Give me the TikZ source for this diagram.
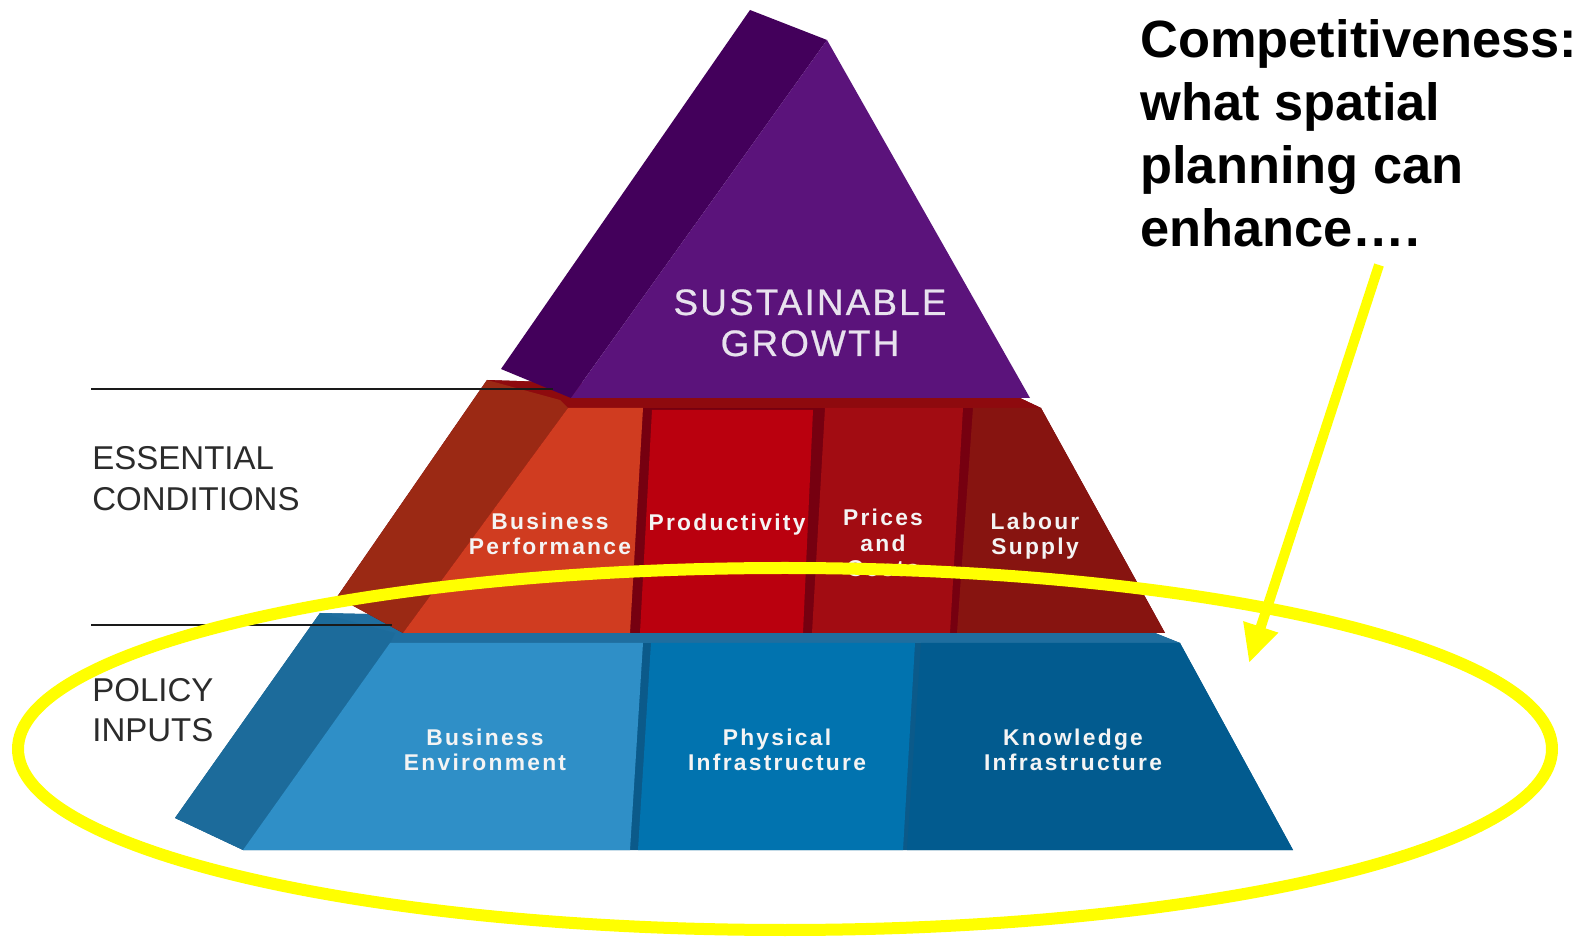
\documentclass[tikz,border=0pt]{standalone}
\usepackage{fontspec}
\setmainfont{Liberation Sans}
\newfontfamily\lblfont[LetterSpace=10]{Liberation Sans}
\newfontfamily\sgfont[LetterSpace=6,FakeBold=0.6]{Liberation Sans}
\usetikzlibrary{arrows.meta}
\definecolor{purpleDark}{HTML}{43005B}
\definecolor{purpleLight}{HTML}{5B137B}
\definecolor{redSep}{HTML}{760010}
\definecolor{redBand}{HTML}{8E0A0E}
\definecolor{redSide}{HTML}{9B2914}
\definecolor{redOrange}{HTML}{D03C20}
\definecolor{redProd}{HTML}{BA000E}
\definecolor{redPrice}{HTML}{A20C12}
\definecolor{redLab}{HTML}{871410}
\definecolor{blueSep}{HTML}{0B5A8A}
\definecolor{blueBand}{HTML}{1F6E9F}
\definecolor{blueSide}{HTML}{1C6B9B}
\definecolor{blueLight}{HTML}{2F8FC7}
\definecolor{bluePhys}{HTML}{0173AF}
\definecolor{blueKnow}{HTML}{025B8F}
\definecolor{labelwhite}{HTML}{F4F4F4}
\definecolor{sgwhite}{HTML}{E8E2EE}
\definecolor{sidegrey}{HTML}{2B2B2B}
\definecolor{ruleblack}{HTML}{1A1A1A}
\definecolor{hlyellow}{HTML}{FFFF00}
\begin{document}
\begin{tikzpicture}[x=0.5pt,y=-0.5pt,
  lbl/.style={text=labelwhite, font=\lblfont\bfseries\fontsize{11.4}{12.75}\selectfont, align=center, anchor=base, inner sep=0pt},
  side/.style={text=sidegrey, font=\fontsize{16.5}{20.5}\selectfont, align=left, anchor=base west, inner sep=0pt},
  rule/.style={draw=ruleblack, line width=1pt},
  hl/.style={draw=hlyellow, line width=6pt}]
\useasboundingbox (0,0) rectangle (1586,940);
\fill[white] (0,0) rectangle (1586,940);

% ---------- blue tier (policy inputs)
\fill[blueSep] (320,613) -- (1150,631) -- (1180,643) -- (1293,850) -- (243,850) -- (175,818) -- cycle;
\fill[blueBand] (320,613) -- (1150,631) -- (1180,643) -- (390,643) -- cycle;
\fill[blueSide] (320,613) -- (395,633) -- (390,643) -- (243,850) -- (175,818) -- cycle;
\fill[blueLight] (390,643) -- (643,643) -- (630,850) -- (243,850) -- cycle;
\fill[bluePhys] (651,643) -- (915,643) -- (903,850) -- (638,850) -- cycle;
\fill[blueKnow] (921,643) -- (1180,643) -- (1293,850) -- (907,850) -- cycle;

% ---------- red tier (essential conditions)
\fill[redSep] (487,380) -- (1020,398) -- (1041,408) -- (1165,633) -- (403,633) -- (337,597) -- cycle;
\fill[redBand] (487,380) -- (1020,398) -- (1041,408) -- (568,408) -- cycle;
\fill[redSide] (487,380) -- (560,400) -- (568,408) -- (403,633) -- (337,597) -- cycle;
\fill[redOrange] (568,408) -- (643,408) -- (630,633) -- (403,633) -- cycle;
\fill[redProd] (652,410) -- (813,410) -- (803,633) -- (640,633) -- cycle;
\fill[redPrice] (825,408) -- (963,408) -- (950,633) -- (812,633) -- cycle;
\fill[redLab] (973,408) -- (1041,408) -- (1165,633) -- (957,633) -- cycle;

% ---------- purple apex (sustainable growth)
\fill[purpleDark] (750,10) -- (827,40) -- (571,398) -- (501,369) -- cycle;
\fill[purpleLight] (827,40) -- (1030,398) -- (571,398) -- cycle;

% ---------- tier rules
\coordinate (r1a) at (91,389);
\coordinate (r1b) at (553,389);
\coordinate (r2a) at (91,625);
\coordinate (r2b) at (392,625);
\draw[rule] (r1a) -- (r1b);
\draw[rule] (r2a) -- (r2b);

% ---------- texts (anchor = baseline of the last line)
\node[side] (ess) at (92,511) {ESSENTIAL\\CONDITIONS};
\node[side] (pol) at (92,742) {POLICY\\INPUTS};
\node[text=sgwhite, font=\sgfont\fontsize{18.4}{20.5}\selectfont, align=center, anchor=base, inner sep=0pt] (sg) at (810,356) {SUSTAINABLE\\GROWTH};

\node[lbl] (bp) at (550,555) {Business\\Performance};
\node[lbl] (pr) at (727,531) {Productivity};
\node[lbl] (pc) at (883,577) {Prices\\and\\Costs};
\node[lbl] (ls) at (1035,555) {Labour\\Supply};
\node[lbl] (be) at (485,771) {Business\\Environment};
\node[lbl] (pi) at (777,771) {Physical\\Infrastructure};
\node[lbl] (ki) at (1073,771) {Knowledge\\Infrastructure};

\node[anchor=base west, align=left, inner sep=0pt, font=\bfseries\fontsize{26.2}{31.5}\selectfont] (comp) at (1140,247)
  {Competitiveness:\\what spatial\\planning can\\enhance….};

% ---------- highlight ellipse and arrow
\coordinate (ec) at (785,749);
\draw[hl] (ec) ellipse [x radius=383.5pt, y radius=90.5pt];
\coordinate (atail) at (1379,265);
\coordinate (ahead) at (1249,663);
\draw[draw=hlyellow, line width=5pt, -{Triangle[length=19pt,width=17pt]}] (atail) -- (ahead);
\end{tikzpicture}
\end{document}
